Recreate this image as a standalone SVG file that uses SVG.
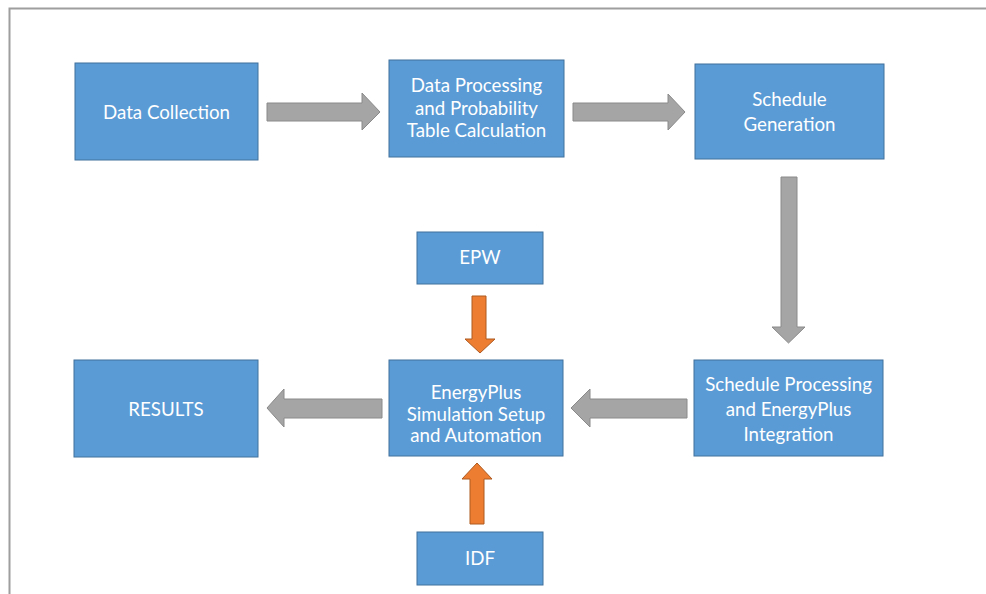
<svg xmlns="http://www.w3.org/2000/svg" width="986" height="594" viewBox="0 0 986 594">
<style>
.box{fill:#5B9BD5;stroke:#41719C;stroke-width:1}
.lbl{font-family:Lato,"Liberation Sans",sans-serif;font-size:18.7px;fill:#ffffff;text-anchor:middle}
.ga{fill:#A5A5A5;stroke:#8A8A8A;stroke-width:1}
.oa{fill:#ED7D31;stroke:#AE5A21;stroke-width:1}
</style>
<rect x="0" y="0" width="986" height="594" fill="#ffffff"/>
<path d="M986,8.5 H9.5 V594" fill="none" stroke="#9E9E9E" stroke-width="2"/>
<g id="connectors">
<polygon class="ga" points="267,103 362,103 362,93 380,112 362,130 362,121 267,121"/>
<polygon class="ga" points="573,103 668,103 668,94 685,112 668,130 668,121 573,121"/>
<polygon class="ga" points="781,177 797,177 797,327 805,327 788.5,343 772,327 781,327"/>
<polygon class="ga" points="687,399 590,399 590,389 571,408 590,427 590,418 687,418"/>
<polygon class="ga" points="382,399 284,399 284,389 267,408 284,427 284,418 382,418"/>
<polygon class="oa" points="472,296 486,296 486,339 495,339 480,353 465,339 472,339"/>
<polygon class="oa" points="470,524 484,524 484,479 492,479 477,463 462,479 470,479"/>
</g>
<g id="data-collection">
<rect class="box" x="75" y="63" width="183" height="97"/>
<text class="lbl" x="166.5" y="119">Data Collection</text>
</g>
<g id="data-processing">
<rect class="box" x="389" y="60" width="175" height="97"/>
<text class="lbl" x="476.5" y="92">Data Processing</text>
<text class="lbl" x="476.5" y="114.5">and Probability</text>
<text class="lbl" x="476.5" y="137">Table Calculation</text>
</g>
<g id="schedule-generation">
<rect class="box" x="695" y="64" width="189" height="95"/>
<text class="lbl" x="789.5" y="106">Schedule</text>
<text class="lbl" x="789.5" y="131">Generation</text>
</g>
<g id="schedule-processing">
<rect class="box" x="694" y="360" width="189" height="96"/>
<text class="lbl" x="788.5" y="391">Schedule Processing</text>
<text class="lbl" x="788.5" y="416">and EnergyPlus</text>
<text class="lbl" x="788.5" y="441">Integration</text>
</g>
<g id="energyplus">
<rect class="box" x="389" y="360" width="174" height="96"/>
<text class="lbl" x="476" y="399">EnergyPlus</text>
<text class="lbl" x="476" y="420.5">Simulation Setup</text>
<text class="lbl" x="476" y="442">and Automation</text>
</g>
<g id="results">
<rect class="box" x="74" y="360" width="184" height="97"/>
<text class="lbl" x="166" y="416">RESULTS</text>
</g>
<g id="epw">
<rect class="box" x="417" y="232" width="126" height="52"/>
<text class="lbl" x="480" y="264">EPW</text>
</g>
<g id="idf">
<rect class="box" x="417" y="532" width="126" height="53"/>
<text class="lbl" x="480" y="565">IDF</text>
</g>
</svg>
